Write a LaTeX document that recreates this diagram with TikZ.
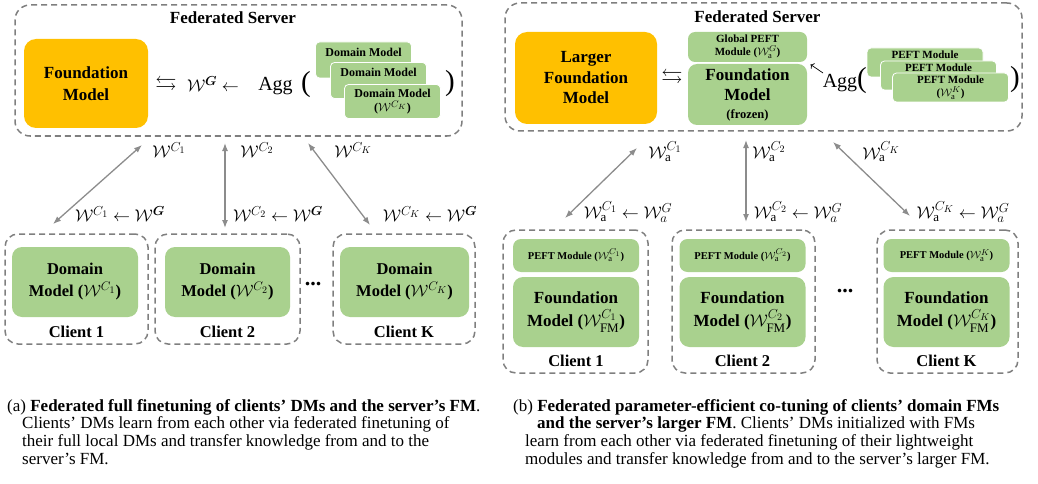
\RequirePackage{fix-cm}
\documentclass[tikz,border=0pt]{standalone}
\usepackage{amsmath}
\usepackage{amssymb}
\usepackage{fontspec}
\setmainfont{Liberation Serif}
\usepackage{tikz}
\usetikzlibrary{arrows,arrows.meta,positioning}

\DeclareMathSizes{17}{17}{13}{10}
\DeclareMathSizes{16.5}{16.5}{12.5}{10}
\DeclareMathSizes{12}{12}{9.5}{7.5}
\DeclareMathSizes{11}{11}{8.5}{7}
\DeclareMathSizes{10.5}{10.5}{8.5}{7}

\definecolor{fmorange}{HTML}{FFC000}
\definecolor{dmgreen}{HTML}{A9D18E}
\definecolor{dashgray}{HTML}{7F7F7F}
\definecolor{arrgray}{HTML}{8C8C8C}

\tikzset{
  srvbox/.style={draw=dashgray, line width=1.5pt, dash pattern=on 6pt off 4pt, rounded corners=15pt, inner sep=0pt},
  clbox/.style={srvbox, rounded corners=13pt},
  fmbox/.style={fill=fmorange, rounded corners=12pt, align=center, inner sep=0pt, font=\bfseries\fontsize{17}{22}\selectfont},
  gbox/.style={fill=dmgreen, rounded corners=10pt, align=center, inner sep=0pt},
  stackbox/.style={fill=dmgreen, draw=white, line width=0.8pt, rounded corners=4pt, inner sep=0pt},
  dmtext/.style={font=\bfseries\fontsize{12}{14}\selectfont, align=center, inner sep=0pt},
  pefttext/.style={font=\bfseries\fontsize{11}{13}\selectfont, align=center, inner sep=0pt},
  xarrow/.style={arrows={Latex[length=8pt,width=6pt]-Latex[length=8pt,width=6pt]}, draw=arrgray, line width=1.3pt},
  wlab/.style={font=\fontsize{17}{20}\selectfont, inner sep=0pt},
  swap/.style={font=\fontsize{17}{20}\selectfont, inner sep=0pt, scale=1.25},
  cltitle/.style={font=\bfseries\fontsize{16.5}{20}\selectfont, inner sep=0pt},
  dotsty/.style={font=\bfseries\fontsize{22}{22}\selectfont, inner sep=0pt},
  capt/.style={font=\fontsize{17}{17.8}\selectfont, align=left, inner sep=0pt, anchor=north west}
}

\begin{document}
\begin{tikzpicture}[x=1pt, y=-1pt]
\useasboundingbox (0,0) rectangle (1038,484);

% (a) server
\node[srvbox, minimum width=447pt, minimum height=131pt] (srvA) at (238.5,70.5) {};
\node[cltitle, font=\bfseries\fontsize{17}{20}\selectfont] (titleA) at (233,18) {Federated Server};
\node[fmbox, minimum width=124pt, minimum height=89pt] (fmA) at (86,83.5) {Foundation\\Model};
\node[swap] (swapA) at (166,85) {$\leftrightarrows$};
\node[wlab] (wgA) at (213,84) {$\mathcal{W}^{\boldsymbol{G}}\leftarrow$};
\node[font=\fontsize{20}{24}\selectfont, inner sep=0pt] (aggA) at (275.5,86) {Agg};
\node[font=\fontsize{29}{30}\selectfont, inner sep=0pt] (lpA) at (306,85) {(};
\node[font=\fontsize{29}{30}\selectfont, inner sep=0pt] (rpA) at (450,84) {)};
\node[stackbox, minimum width=96pt, minimum height=36pt] (dmS1) at (363.5,60) {};
\node[stackbox, minimum width=96pt, minimum height=36pt] (dmS2) at (378.5,80.5) {};
\node[stackbox, minimum width=96pt, minimum height=34pt] (dmS3) at (392.5,101.5) {};
\node[dmtext, below=6pt of dmS1.north] (dmT1) {Domain Model};
\node[dmtext, below=6pt of dmS2.north] (dmT2) {Domain Model};
\node[dmtext, below=5pt of dmS3.north] (dmT3) {Domain Model\\($\mathcal{W}^{C_K}$)};

% (a) clients
\foreach \ci/\cx/\cw/\gx/\gw/\csub in {1/76.5/143/75/126/C_1, 2/227.5/145/227.5/125/C_2, K/404/142/404.5/129/C_K}{
  \node[clbox, minimum width=\cw pt, minimum height=110pt] (cA\ci) at (\cx,289) {};
  \node[gbox, font=\bfseries\fontsize{16.5}{22}\selectfont, minimum width=\gw pt, minimum height=70pt] (gA\ci) at (\gx,282) {Domain\\Model ($\mathcal{W}^{\csub}$)};
  \node[cltitle] (nA\ci) at (\cx,332) {Client \ci};
}
\node[dotsty] (dotsA) at (313,284) {...};

% (a) exchange
\coordinate (a1s) at (142,145); \coordinate (a1e) at (53,224);
\coordinate (a2s) at (225,143); \coordinate (a2e) at (225,228);
\coordinate (a3s) at (308,143); \coordinate (a3e) at (370,225);
\draw[xarrow] (a1s) -- (a1e);
\draw[xarrow] (a2s) -- (a2e);
\draw[xarrow] (a3s) -- (a3e);
\node[wlab] (wA1) at (169,150) {$\mathcal{W}^{C_1}$};
\node[wlab] (wA2) at (257,150) {$\mathcal{W}^{C_2}$};
\node[wlab] (wAK) at (353,150) {$\mathcal{W}^{C_K}$};
\node[wlab] (uA1) at (120,214) {$\mathcal{W}^{C_1}\leftarrow\mathcal{W}^{\boldsymbol{G}}$};
\node[wlab] (uA2) at (278,214) {$\mathcal{W}^{C_2}\leftarrow\mathcal{W}^{\boldsymbol{G}}$};
\node[wlab] (uAK) at (430,214) {$\mathcal{W}^{C_K}\leftarrow\mathcal{W}^{\boldsymbol{G}}$};

% (b) server
\node[srvbox, minimum width=517pt, minimum height=128pt] (srvB) at (763.5,67) {};
\node[cltitle, font=\bfseries\fontsize{17}{20}\selectfont] (titleB) at (757.5,17) {Federated Server};
\node[fmbox, font=\bfseries\fontsize{17}{20.5}\selectfont, minimum width=142pt, minimum height=92pt] (fmB) at (586,78) {Larger\\Foundation\\Model};
\node[swap] (swapB) at (672,78) {$\leftrightarrows$};
\node[gbox, pefttext, rounded corners=7pt, minimum width=119pt, minimum height=30pt] (gpB) at (747.5,47) {Global PEFT\\Module ($\mathcal{W}_{\mathrm{a}}^{G}$)};
\node[gbox, font=\bfseries\fontsize{17}{20}\selectfont, rounded corners=9pt, minimum width=119pt, minimum height=61pt] (frzB) at (747.5,94.5) {Foundation\\Model\\[-2pt]{\fontsize{12.5}{14}\selectfont(frozen)}};
\node[font=\fontsize{20}{24}\selectfont, inner sep=0pt] (aggB) at (840,83) {Agg};
\node[font=\fontsize{29}{30}\selectfont, inner sep=0pt] (lpB) at (862,81) {(};
\node[font=\fontsize{29}{30}\selectfont, inner sep=0pt] (rpB) at (1015,80) {)};
\coordinate (aggtip) at (823,73);
\draw[->, line width=0.7pt, shorten >=4pt] (aggtip) -- (gpB.south east);
\node[stackbox, minimum width=116pt, minimum height=29pt] (peS1) at (925,62.5) {};
\node[stackbox, minimum width=116pt, minimum height=29pt] (peS2) at (938.5,75.5) {};
\node[stackbox, minimum width=116pt, minimum height=29pt] (peS3) at (950.5,87.5) {};
\node[pefttext, below=3pt of peS1.north] (peT1) {PEFT Module};
\node[pefttext, below=3pt of peS2.north] (peT2) {PEFT Module};
\node[pefttext, below=3pt of peS3.north] (peT3) {PEFT Module\\($\mathcal{W}_{\mathrm{a}}^{K}$)};

% (b) clients
\foreach \ci/\cx/\cw/\gx/\psub/\fsub in {1/575.5/145/576/C_1/C_1, 2/743.5/143/742.5/C_2/C_2, K/947.5/141/946.5/K/C_K}{
  \node[clbox, minimum width=\cw pt, minimum height=143pt] (cB\ci) at (\cx,301.5) {};
  \node[gbox, font=\bfseries\fontsize{10.5}{12}\selectfont, rounded corners=8pt, minimum width=126pt, minimum height=33pt] (pB\ci) at (\gx,255.5) {PEFT Module ($\mathcal{W}_{\mathrm{a}}^{\psub}$)};
  \node[gbox, font=\bfseries\fontsize{17}{23}\selectfont, minimum width=126pt, minimum height=70pt] (fB\ci) at (\gx,312) {Foundation\\Model ($\mathcal{W}_{\mathrm{FM}}^{\fsub}$)};
  \node[cltitle] (nB\ci) at (\gx,361) {Client \ci};
}
\node[dotsty] (dotsB) at (845,291) {...};

% (b) exchange
\coordinate (b1s) at (637,148); \coordinate (b1e) at (565,218);
\coordinate (b2s) at (746,140); \coordinate (b2e) at (746,222);
\coordinate (b3s) at (833,142); \coordinate (b3e) at (910,216);
\draw[xarrow] (b1s) -- (b1e);
\draw[xarrow] (b2s) -- (b2e);
\draw[xarrow] (b3s) -- (b3e);
\node[wlab] (wB1) at (665,152) {$\mathcal{W}_{\mathrm{a}}^{C_1}$};
\node[wlab] (wB2) at (769,152) {$\mathcal{W}_{\mathrm{a}}^{C_2}$};
\node[wlab] (wBK) at (881,152) {$\mathcal{W}_{\mathrm{a}}^{C_K}$};
\node[wlab] (uB1) at (628,212) {$\mathcal{W}_{\mathrm{a}}^{C_1}\leftarrow\mathcal{W}_{a}^{G}$};
\node[wlab] (uB2) at (798,212) {$\mathcal{W}_{\mathrm{a}}^{C_2}\leftarrow\mathcal{W}_{a}^{G}$};
\node[wlab] (uBK) at (963,212) {$\mathcal{W}_{\mathrm{a}}^{C_K}\leftarrow\mathcal{W}_{a}^{G}$};

% captions
\node[capt] (capA) at (7,399) {(a) \textbf{Federated full finetuning of clients’ DMs and the server’s FM}.\\
  \hspace*{15pt}Clients’ DMs learn from each other via federated finetuning of\\
  \hspace*{15pt}their full local DMs and transfer knowledge from and to the\\
  \hspace*{15pt}server’s FM.};
\node[capt] (capB) at (513,399) {(b) \textbf{Federated parameter-efficient co-tuning of clients’ domain FMs}\\
  \hspace*{24pt}\textbf{and the server’s larger FM}. Clients’ DMs initialized with FMs\\
  \hspace*{12pt}learn from each other via federated finetuning of their lightweight\\
  \hspace*{12pt}modules and transfer knowledge from and to the server’s larger FM.};
\end{tikzpicture}
\end{document}
